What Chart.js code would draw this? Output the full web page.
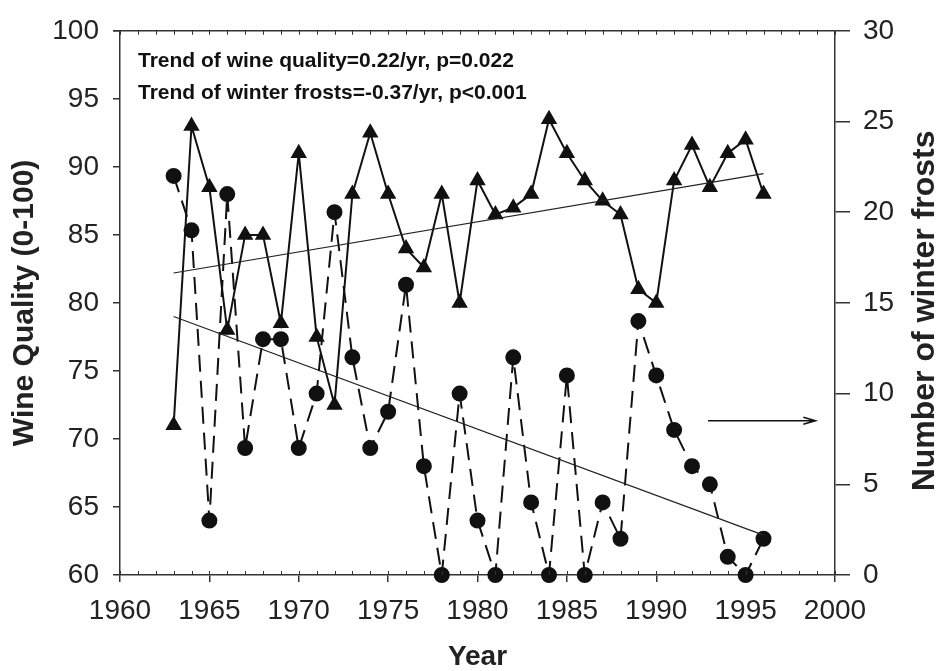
<!DOCTYPE html>
<html>
<head>
<meta charset="utf-8">
<title>Wine quality and winter frosts</title>
<script src="https://cdn.jsdelivr.net/npm/chart.js@4.4.1/dist/chart.umd.min.js"></script>
<style>
  body { margin: 0; background: #fff; }
  #myChart { display: block; }
</style>
</head>
<body>
<canvas id="myChart" width="939" height="671"></canvas>
<script>
// years of the series
const years = [1963, 1964, 1965, 1966, 1967, 1968, 1969, 1970, 1971, 1972, 1973, 1974,
  1975, 1976, 1977, 1978, 1979, 1980, 1981, 1982, 1983, 1984, 1985, 1986, 1987, 1988,
  1989, 1990, 1991, 1992, 1993, 1994, 1995, 1996];

// wine quality (0-100), left axis, triangles
const wineQuality = [71, 93, 88.5, 78, 85, 85, 78.5, 91, 77.5, 72.5, 88, 92.5,
  88, 84, 82.6, 88, 80, 89, 86.5, 87, 88, 93.5, 91, 89, 87.5, 86.5,
  81, 80, 89, 91.6, 88.5, 91, 92, 88];

// number of winter frosts, right axis, circles
const winterFrosts = [22, 19, 3, 21, 7, 13, 13, 7, 10, 20, 12, 7,
  9, 16, 6, 0, 10, 3, 0, 12, 4, 0, 11, 0, 4, 2,
  14, 11, 8, 6, 5, 1, 0, 2];

// fitted trend lines (end points)
const trendYears = [1963, 1996];
const qualityTrend = [82.2, 89.5];
const frostTrend = [14.25, 2.2];

// arrow pointing at the right axis
const arrowYears = [1992.9, 1998.9];
const arrowFrosts = [8.5, 8.5];

const xTicks = [1960, 2000, 5];
const qualityTicks = [60, 100, 5];
const frostTicks = [0, 30, 5];

const notes = [
  "Trend of wine quality=0.22/yr, p=0.022",
  "Trend of winter frosts=-0.37/yr, p<0.001",
];
const rightTitle = "Number of winter frosts";

const axisColor = "#333";
const fontFamily = "'Liberation Sans', Arial, sans-serif";
const tickFont = { family: fontFamily, size: 28 };

const toPoints = (xs, ys) => xs.map((x, i) => ({ x: x, y: ys[i] }));

const data = {
  datasets: [
    {
      data: toPoints(trendYears, qualityTrend),
      yAxisID: "y",
      borderColor: "#222",
      borderWidth: 1.2,
      pointRadius: 0,
    },
    {
      data: toPoints(trendYears, frostTrend),
      yAxisID: "y1",
      borderColor: "#222",
      borderWidth: 1.2,
      pointRadius: 0,
    },
    {
      data: toPoints(years, winterFrosts),
      yAxisID: "y1",
      clip: false,
      borderColor: "#111",
      borderWidth: 2,
      borderDash: [17, 9],
      pointStyle: "circle",
      pointRadius: 7,
      pointBackgroundColor: "#111",
      pointBorderColor: "#111",
    },
    {
      data: toPoints(years, wineQuality),
      yAxisID: "y",
      clip: false,
      borderColor: "#111",
      borderWidth: 2,
      pointStyle: "triangle",
      pointRadius: 7.5,
      pointBackgroundColor: "#111",
      pointBorderColor: "#111",
    },
  ],
};

//minor year ticks on bottom and top, top frame line, notes, arrow, right title
const extras = {
  id: "extras",
  afterDraw(chart) {
    const ctx = chart.ctx;
    const x = chart.scales.x;
    const y1 = chart.scales.y1;
    const area = chart.chartArea;
    ctx.save();
    ctx.strokeStyle = axisColor;
    ctx.lineWidth = 1.5;
    ctx.beginPath();
    ctx.moveTo(area.left - 7, area.top);
    ctx.lineTo(area.right, area.top);
    ctx.stroke();
    ctx.lineWidth = 1;
    ctx.beginPath();
    for (let yr = xTicks[0]; yr <= xTicks[1]; yr++) {
      const px = Math.round(x.getPixelForValue(yr)) + 0.5;
      ctx.moveTo(px, area.bottom);
      ctx.lineTo(px, area.bottom - 4);
      ctx.moveTo(px, area.top);
      ctx.lineTo(px, area.top + 4);
    }
    ctx.stroke();

    // arrow
    const ax0 = x.getPixelForValue(arrowYears[0]);
    const ax1 = x.getPixelForValue(arrowYears[1]);
    const ay = y1.getPixelForValue(arrowFrosts[0]);
    ctx.strokeStyle = "#111";
    ctx.lineWidth = 1.6;
    ctx.beginPath();
    ctx.moveTo(ax0, ay);
    ctx.lineTo(ax1, ay);
    ctx.moveTo(ax1 - 12, ay - 3.5);
    ctx.lineTo(ax1, ay);
    ctx.lineTo(ax1 - 12, ay + 3.5);
    ctx.stroke();

    // notes
    ctx.fillStyle = "#111";
    ctx.font = "bold 21px " + fontFamily;
    ctx.textBaseline = "middle";
    ctx.textAlign = "left";
    ctx.fillText(notes[0], area.left + 18, area.top + 30.5);
    ctx.fillText(notes[1], area.left + 18, area.top + 62);

    // right axis title reads bottom to top
    ctx.fillStyle = "#222";
    ctx.font = "bold 32px " + fontFamily;
    ctx.textAlign = "center";
    ctx.textBaseline = "alphabetic";
    ctx.translate(934, (area.top + area.bottom) / 2 + 8);
    ctx.rotate(-Math.PI / 2);
    ctx.fillText(rightTitle, 0, 0);
    ctx.restore();
  },
};

const config = {
  type: "line",
  data,
  options: {
    responsive: false,
    animation: false,
    devicePixelRatio: 1,
    layout: { padding: { top: 29, right: 0, left: 0, bottom: 0 } },
    plugins: { legend: { display: false }, tooltip: { enabled: false } },
    scales: {
      x: {
        type: "linear",
        min: xTicks[0],
        max: xTicks[1],
        ticks: {
          stepSize: xTicks[2],
          autoSkip: false,
          maxRotation: 0,
          padding: 12,
          color: "#222",
          font: tickFont,
          callback: (v) => String(v),
        },
        grid: { drawOnChartArea: false, tickLength: 7, color: axisColor, lineWidth: 1.5 },
        border: { color: axisColor, width: 1.5 },
        title: {
          display: true,
          text: "Year",
          color: "#222",
          font: { family: fontFamily, size: 28, weight: "bold", lineHeight: 1 },
          padding: 0,
        },
        afterFit: (scale) => { scale.height = 96; },
      },
      y: {
        position: "left",
        min: qualityTicks[0],
        max: qualityTicks[1],
        ticks: {
          stepSize: qualityTicks[2],
          padding: 14,
          color: "#222",
          font: tickFont,
          callback: (v) => String(v),
        },
        grid: { drawOnChartArea: false, tickLength: 7, color: axisColor, lineWidth: 1.5 },
        border: { color: axisColor, width: 1.5 },
        title: {
          display: true,
          text: "Wine Quality (0-100)",
          color: "#222",
          font: { family: fontFamily, size: 30, weight: "bold", lineHeight: 1 },
          padding: { top: 10, bottom: 0 },
        },
        afterFit: (scale) => { scale.width = 120; },
      },
      y1: {
        position: "right",
        min: frostTicks[0],
        max: frostTicks[1],
        ticks: {
          stepSize: frostTicks[2],
          padding: 13,
          color: "#222",
          font: tickFont,
          callback: (v) => String(v),
        },
        grid: { drawOnChartArea: false, tickLength: 15, color: axisColor, lineWidth: 1.5 },
        border: { color: axisColor, width: 1.5 },
        afterFit: (scale) => { scale.width = 104; },
      },
    },
  },
  plugins: [extras],
};

let myChart = new Chart(document.getElementById("myChart"), config);
</script>
</body>
</html>
